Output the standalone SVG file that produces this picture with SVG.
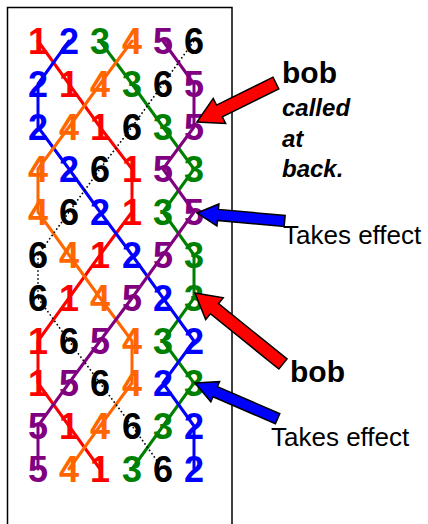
<svg xmlns="http://www.w3.org/2000/svg" width="428" height="524" viewBox="0 0 428 524">
<style>
.d{font-family:"Liberation Sans",Arial,sans-serif;font-weight:bold;font-size:36px;text-anchor:middle}
.ln{fill:none;stroke-width:3;stroke-linejoin:round;stroke-linecap:round}
.b1{fill:#FF0000;stroke:#FF0000}.b2{fill:#0000FF;stroke:#0000FF}.b3{fill:#008000;stroke:#008000}
.b4{fill:#FF6600;stroke:#FF6600}.b5{fill:#800080;stroke:#800080}.b6{fill:#000;stroke:#000}
text.d{stroke:none}
.dot{fill:none;stroke:#000;stroke-width:1.6;stroke-dasharray:1.6,2.4}
.ar{stroke:#000;stroke-width:1.5;stroke-linejoin:miter}
.lb{font-family:"Liberation Sans",Arial,sans-serif;fill:#000}
</style>
<rect x="7.5" y="7.5" width="224.5" height="530" fill="#fff" stroke="#000" stroke-width="1.5"/>
<g id="connectors">
<polyline class="ln b1" style="fill:none" points="38,41 69,84 100,127 132,169 132,212 100,255 69,298 38,341 38,383 69,426 100,469"/>
<polyline class="ln b3" style="fill:none" points="100,41 132,84 163,127 194,169 163,212 194,255 194,298 163,341 194,383 163,426 132,469"/>
<polyline class="ln b2" style="fill:none" points="69,41 38,84 38,127 69,169 100,212 132,255 163,298 194,341 163,383 194,426 194,469"/>
<polyline class="ln b4" style="fill:none" points="132,41 100,84 69,127 38,169 38,212 69,255 100,298 132,341 132,383 100,426 69,469"/>
<polyline class="ln b5" style="fill:none" points="163,41 194,84 194,127 163,169 194,212 163,255 132,298 100,341 69,383 38,426 38,469"/>
<polyline class="dot" points="194,41 163,84 132,127 100,169 69,212 38,255 38,298 69,341 100,383 132,426 163,469"/>
</g>
<g id="row1"><text class="d b1" x="38" y="54">1</text><text class="d b2" x="69" y="54">2</text><text class="d b3" x="100" y="54">3</text><text class="d b4" x="132" y="54">4</text><text class="d b5" x="163" y="54">5</text><text class="d b6" x="194" y="54">6</text></g>
<g id="row2"><text class="d b2" x="38" y="97">2</text><text class="d b1" x="69" y="97">1</text><text class="d b4" x="100" y="97">4</text><text class="d b3" x="132" y="97">3</text><text class="d b6" x="163" y="97">6</text><text class="d b5" x="194" y="97">5</text></g>
<g id="row3"><text class="d b2" x="38" y="140">2</text><text class="d b4" x="69" y="140">4</text><text class="d b1" x="100" y="140">1</text><text class="d b6" x="132" y="140">6</text><text class="d b3" x="163" y="140">3</text><text class="d b5" x="194" y="140">5</text></g>
<g id="row4"><text class="d b4" x="38" y="182">4</text><text class="d b2" x="69" y="182">2</text><text class="d b6" x="100" y="182">6</text><text class="d b1" x="132" y="182">1</text><text class="d b5" x="163" y="182">5</text><text class="d b3" x="194" y="182">3</text></g>
<g id="row5"><text class="d b4" x="38" y="225">4</text><text class="d b6" x="69" y="225">6</text><text class="d b2" x="100" y="225">2</text><text class="d b1" x="132" y="225">1</text><text class="d b3" x="163" y="225">3</text><text class="d b5" x="194" y="225">5</text></g>
<g id="row6"><text class="d b6" x="38" y="268">6</text><text class="d b4" x="69" y="268">4</text><text class="d b1" x="100" y="268">1</text><text class="d b2" x="132" y="268">2</text><text class="d b5" x="163" y="268">5</text><text class="d b3" x="194" y="268">3</text></g>
<g id="row7"><text class="d b6" x="38" y="311">6</text><text class="d b1" x="69" y="311">1</text><text class="d b4" x="100" y="311">4</text><text class="d b5" x="132" y="311">5</text><text class="d b2" x="163" y="311">2</text><text class="d b3" x="194" y="311">3</text></g>
<g id="row8"><text class="d b1" x="38" y="354">1</text><text class="d b6" x="69" y="354">6</text><text class="d b5" x="100" y="354">5</text><text class="d b4" x="132" y="354">4</text><text class="d b3" x="163" y="354">3</text><text class="d b2" x="194" y="354">2</text></g>
<g id="row9"><text class="d b1" x="38" y="396">1</text><text class="d b5" x="69" y="396">5</text><text class="d b6" x="100" y="396">6</text><text class="d b4" x="132" y="396">4</text><text class="d b2" x="163" y="396">2</text><text class="d b3" x="194" y="396">3</text></g>
<g id="row10"><text class="d b5" x="38" y="439">5</text><text class="d b1" x="69" y="439">1</text><text class="d b4" x="100" y="439">4</text><text class="d b6" x="132" y="439">6</text><text class="d b3" x="163" y="439">3</text><text class="d b2" x="194" y="439">2</text></g>
<g id="row11"><text class="d b5" x="38" y="482">5</text><text class="d b4" x="69" y="482">4</text><text class="d b1" x="100" y="482">1</text><text class="d b3" x="132" y="482">3</text><text class="d b6" x="163" y="482">6</text><text class="d b2" x="194" y="482">2</text></g>
<g id="bob1">
<polygon class="ar" fill="#FF0000" transform="translate(197,122) rotate(-26.3)" points="0,0 25,-14 25,-6.5 88,-6.5 88,6.5 25,6.5 25,14"/>
<text class="lb" x="282" y="83" font-size="30" font-weight="bold">bob</text>
<text class="lb" x="282" y="116" font-size="24" font-weight="bold" font-style="italic">called</text>
<text class="lb" x="282" y="147" font-size="24" font-weight="bold" font-style="italic">at</text>
<text class="lb" x="282" y="177" font-size="24" font-weight="bold" font-style="italic">back.</text>
</g>
<g id="effect1">
<polygon class="ar" fill="#0000FF" transform="translate(197,213) rotate(5.2)" points="0,0 21,-11 21,-5.5 88,-5.5 88,5.5 21,5.5 21,11"/>
<text class="lb" x="283" y="244" font-size="26">Takes effect</text>
</g>
<g id="bob2">
<polygon class="ar" fill="#FF0000" transform="translate(195,293) rotate(38.9)" points="0,0 25,-14 25,-6.5 113,-6.5 113,6.5 25,6.5 25,14"/>
<text class="lb" x="290" y="382" font-size="30" font-weight="bold">bob</text>
</g>
<g id="effect2">
<polygon class="ar" fill="#0000FF" transform="translate(195,383) rotate(23.4)" points="0,0 22,-11 22,-5.5 90,-5.5 90,5.5 22,5.5 22,11"/>
<text class="lb" x="271" y="446" font-size="26">Takes effect</text>
</g>
</svg>
